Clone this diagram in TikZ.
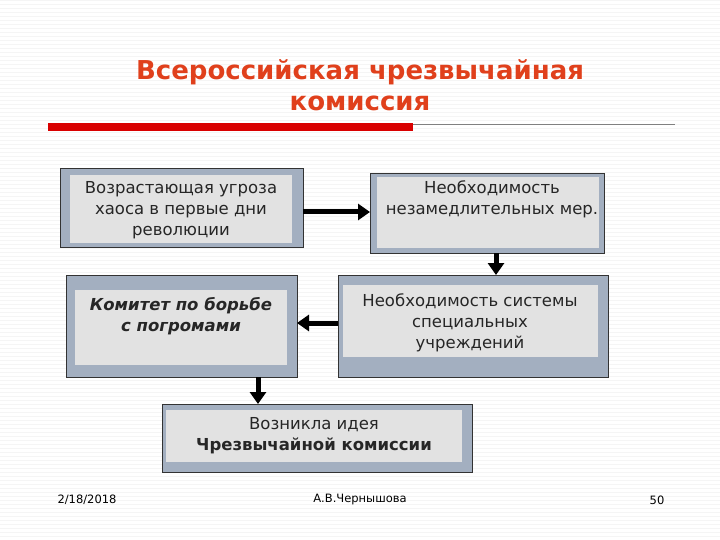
\documentclass[tikz,border=0pt]{standalone}
\usepackage{fontspec}
\setmainfont{DejaVu Sans}
\usetikzlibrary{arrows.meta}
\definecolor{outerc}{HTML}{A3AFC0}
\definecolor{innerc}{HTML}{E2E2E2}
\definecolor{titlec}{HTML}{E0401C}
\tikzset{
 outerbox/.style={draw=black!80,line width=0.8pt,fill=outerc},
 innerbox/.style={fill=innerc},
 txt/.style={font=\fontsize{16.5}{21}\selectfont,align=center,text=black!85},
 bigarrow/.style={line width=5pt,-{Triangle[length=12pt,width=16pt]}},
 foot/.style={font=\fontsize{11.5}{13}\selectfont}
}
\begin{document}
\begin{tikzpicture}[x=1pt,y=-1pt]
\useasboundingbox (0,0) rectangle (720,540);
\fill[white] (0,0) rectangle (720,540);
\foreach \i in {0,4,...,536} \draw[black!4,line width=0.4pt] (0,\i) -- (720,\i);
\node[font=\bfseries\fontsize{26}{31}\selectfont,text=titlec,align=center] (title) at (360,85) {Всероссийская чрезвычайная\\комиссия};
\fill[red!85!black] (48,123) rectangle (413,131);
\draw[black!50,line width=0.6pt] (413,124) -- (675,124);
% box1
\path[outerbox] (60,168) rectangle (303,247);
\path[innerbox] (70,175) rectangle (292,243);
\node[txt] (b1) at (181,210) {Возрастающая угроза\\хаоса в первые дни\\революции};
\coordinate (b1r) at (303,212);
% box2
\path[outerbox] (370,173) rectangle (604,253);
\path[innerbox] (377,177) rectangle (599,248);
\node[txt] (b2) at (492,199) {Необходимость\\незамедлительных мер.};
\coordinate (b2l) at (370,212);
\coordinate (b2b) at (496,253);
% box3
\path[outerbox] (66,275) rectangle (297,377);
\path[innerbox] (75,290) rectangle (287,365);
\node[txt,font=\bfseries\itshape\fontsize{16.5}{21}\selectfont] (b3) at (181,316) {Комитет по борьбе\\с погромами};
\coordinate (b3r) at (297,323);
\coordinate (b3b) at (258,377);
% box4
\path[outerbox] (338,275) rectangle (608,377);
\path[innerbox] (343,285) rectangle (598,357);
\node[txt] (b4) at (470,323) {Необходимость системы\\специальных\\учреждений};
\coordinate (b4l) at (338,323);
\coordinate (b4t) at (496,275);
% box5
\path[outerbox] (162,404) rectangle (472,472);
\path[innerbox] (166,410) rectangle (462,462);
\node[txt] (b5) at (314,436) {Возникла идея\\\textbf{Чрезвычайной комиссии}};
\coordinate (b5t) at (258,404);
\draw[bigarrow] (b1r) -- (b2l);
\draw[bigarrow] (b2b) -- (b4t);
\draw[bigarrow] (b4l) -- (b3r);
\draw[bigarrow] (b3b) -- (b5t);
\node[foot] (d) at (87,500) {2/18/2018};
\node[foot] (a) at (360,500) {А.В.Чернышова};
\node[foot] (n) at (657,500) {50};
\end{tikzpicture}
\end{document}
